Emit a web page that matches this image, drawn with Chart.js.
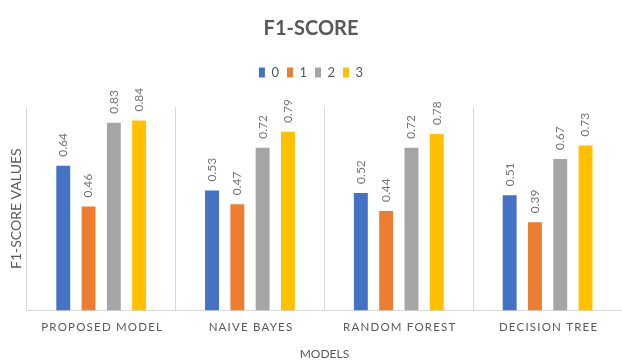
<!DOCTYPE html>
<html>
<head>
<meta charset="utf-8">
<script src="https://cdn.jsdelivr.net/npm/chart.js@4.4.1/dist/chart.umd.min.js"></script>
<style>
    html, body { margin: 0; padding: 0; background: #fff; }
    #wrap { width: 622px; height: 360px; }
</style>
</head>
<body>
<div id="wrap"><canvas id="chart"></canvas></div>
<script>
    // ── Data ──────────────────────────────────────────────
    var models = ['PROPOSED MODEL', 'NAIVE BAYES', 'RANDOM FOREST', 'DECISION TREE'];
    var seriesNames = ['0', '1', '2', '3'];
    var class0 = [0.64, 0.53, 0.52, 0.51];
    var class1 = [0.46, 0.47, 0.44, 0.39];
    var class2 = [0.83, 0.72, 0.72, 0.67];
    var class3 = [0.84, 0.79, 0.78, 0.73];
    var colors = ['#4472C4', '#ED7D31', '#A5A5A5', '#FFC000'];

    var TEXT = '#595959';
    var FONT = "Lato, 'Open Sans', sans-serif";

    // extra room under the legend (Excel puts a gap before the plot)
    var legendGap = {
        id: 'legendGap',
        beforeInit: function (chart) {
            var fit = chart.legend.fit;
            chart.legend.fit = function () {
                fit.call(this);
                this.height += 18;
            };
        }
    };

    // rotated value labels above each bar
    var barLabels = {
        id: 'barLabels',
        afterDatasetsDraw: function (chart) {
            var ctx = chart.ctx;
            ctx.save();
            ctx.font = '12px ' + FONT;
            ctx.fillStyle = '#757575';
            ctx.textAlign = 'left';
            ctx.textBaseline = 'middle';
            chart.data.datasets.forEach(function (ds, di) {
                var meta = chart.getDatasetMeta(di);
                meta.data.forEach(function (bar, i) {
                    ctx.save();
                    ctx.translate(bar.x, bar.y - 9);
                    ctx.rotate(-Math.PI / 2);
                    ctx.fillText(ds.data[i].toFixed(2), 0, 0);
                    ctx.restore();
                });
            });
            ctx.restore();
        }
    };

    // letter-spaced category labels (Chart.js has no letterSpacing option)
    var spacedTicks = {
        id: 'spacedTicks',
        afterDraw: function (chart) {
            var ctx = chart.ctx;
            var xs = chart.scales.x;
            ctx.save();
            ctx.font = '11.5px ' + FONT;
            ctx.fillStyle = TEXT;
            ctx.textAlign = 'center';
            ctx.textBaseline = 'middle';
            ctx.letterSpacing = '1.2px';
            models.forEach(function (m, i) {
                ctx.fillText(m, xs.getPixelForTick(i) + 1, xs.top + 17);
            });
            ctx.restore();
        }
    };

    new Chart(document.getElementById('chart'), {
        type: 'bar',
        data: {
            labels: models,
            datasets: [class0, class1, class2, class3].map(function (d, i) {
                return {
                    label: seriesNames[i],
                    data: d,
                    backgroundColor: colors[i],
                    categoryPercentage: 0.68,
                    barPercentage: 0.55
                };
            })
        },
        options: {
            responsive: true,
            maintainAspectRatio: false,
            animation: false,
            layout: { padding: 0 },
            plugins: {
                tooltip: { enabled: false },
                title: {
                    display: true,
                    text: 'F1-SCORE',
                    color: TEXT,
                    font: { family: FONT, size: 20, weight: 'bold', lineHeight: 1.2 },
                    padding: { top: 17, bottom: 17 }
                },
                legend: {
                    display: true,
                    labels: {
                        color: TEXT,
                        font: { family: FONT, size: 13 },
                        boxWidth: 6,
                        boxHeight: 10,
                        padding: 8
                    }
                }
            },
            scales: {
                x: {
                    grid: {
                        display: true,
                        offset: true,
                        drawTicks: false,
                        color: function (c) { return c.index === 4 ? 'rgba(0,0,0,0)' : '#D9D9D9'; }
                    },
                    border: { display: true, color: '#D9D9D9' },
                    ticks: {
                        color: 'rgba(0,0,0,0)',
                        font: { family: FONT, size: 13 },
                        padding: 5,
                        maxRotation: 0,
                        minRotation: 0,
                        autoSkip: false
                    },
                    title: {
                        display: true,
                        text: 'MODELS',
                        color: TEXT,
                        font: { family: FONT, size: 12, lineHeight: 1 },
                        padding: { top: 12, bottom: 0 }
                    }
                },
                y: {
                    min: 0,
                    max: 0.9,
                    grid: { display: false, drawTicks: false },
                    border: { display: false },
                    ticks: { display: false },
                    title: {
                        display: true,
                        text: 'F1-SCORE VALUES',
                        color: TEXT,
                        font: { family: FONT, size: 14, lineHeight: 1.2 },
                        padding: { top: 8, bottom: 2 }
                    }
                }
            }
        },
        plugins: [legendGap, barLabels, spacedTicks]
    });
</script>
</body>
</html>
